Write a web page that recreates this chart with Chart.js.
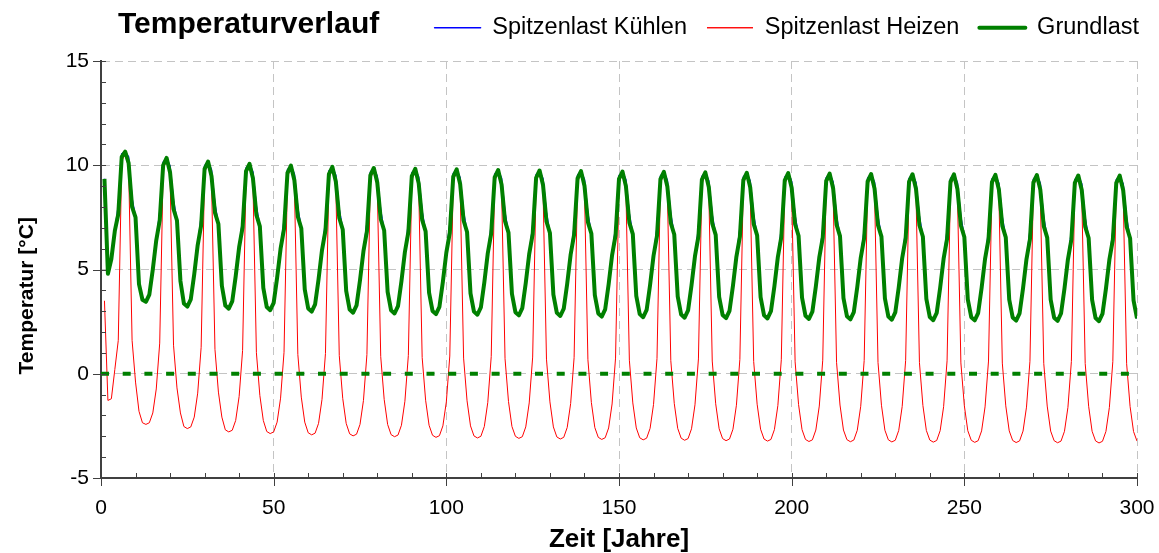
<!DOCTYPE html>
<html>
<head>
<meta charset="utf-8">
<title>Temperaturverlauf</title>
<script src="https://cdn.jsdelivr.net/npm/chart.js@4"></script>
<style>
  html, body { margin: 0; padding: 0; background: #fff; }
  canvas { display: block; }
</style>
</head>
<body>
<canvas id="tempChart" width="1159" height="553"></canvas>
<script>
// Monate 1..300 (x-Achse)
const monate = Array.from({ length: 300 }, (_, i) => i + 1);

const xTicks = [0, 50, 100, 150, 200, 250, 300];
const yTicks = [-5, 0, 5, 10, 15];

// Spitzenlast Kühlen (blau), ein Jahr pro Zeile
const kuehlen = [
  9.35, 4.80, 5.50, 6.85, 8.05, 10.55, 10.65, 10.40, 8.40, 7.50, 4.30, 3.55,
  3.45, 3.80, 5.00, 6.40, 7.75, 10.15, 10.35, 9.95, 8.30, 7.35, 4.45, 3.37,
  3.22, 3.57, 4.77, 6.17, 7.52, 9.98, 10.18, 9.78, 8.13, 7.18, 4.22, 3.27,
  3.12, 3.47, 4.67, 6.07, 7.42, 9.87, 10.07, 9.67, 8.02, 7.07, 4.12, 3.20,
  3.05, 3.40, 4.60, 6.00, 7.35, 9.78, 9.98, 9.58, 7.93, 6.98, 4.05, 3.13,
  2.98, 3.33, 4.53, 5.93, 7.28, 9.72, 9.92, 9.52, 7.87, 6.92, 3.98, 3.08,
  2.93, 3.28, 4.48, 5.88, 7.23, 9.67, 9.87, 9.47, 7.82, 6.87, 3.93, 3.04,
  2.89, 3.24, 4.44, 5.84, 7.19, 9.63, 9.83, 9.43, 7.78, 6.83, 3.89, 3.01,
  2.86, 3.21, 4.41, 5.81, 7.16, 9.60, 9.80, 9.40, 7.75, 6.80, 3.86, 2.98,
  2.83, 3.18, 4.38, 5.78, 7.13, 9.57, 9.77, 9.37, 7.72, 6.77, 3.83, 2.95,
  2.80, 3.15, 4.35, 5.75, 7.10, 9.55, 9.75, 9.35, 7.70, 6.75, 3.80, 2.92,
  2.77, 3.12, 4.32, 5.72, 7.07, 9.52, 9.72, 9.32, 7.67, 6.72, 3.77, 2.89,
  2.74, 3.09, 4.29, 5.69, 7.04, 9.50, 9.70, 9.30, 7.65, 6.70, 3.74, 2.86,
  2.71, 3.06, 4.26, 5.66, 7.01, 9.48, 9.68, 9.28, 7.63, 6.68, 3.71, 2.84,
  2.69, 3.04, 4.24, 5.64, 6.99, 9.46, 9.66, 9.26, 7.61, 6.66, 3.69, 2.82,
  2.67, 3.02, 4.22, 5.62, 6.97, 9.44, 9.64, 9.24, 7.59, 6.64, 3.67, 2.80,
  2.65, 3.00, 4.20, 5.60, 6.95, 9.42, 9.62, 9.22, 7.57, 6.62, 3.65, 2.78,
  2.63, 2.98, 4.18, 5.58, 6.93, 9.40, 9.60, 9.20, 7.55, 6.60, 3.63, 2.76,
  2.61, 2.96, 4.16, 5.56, 6.91, 9.38, 9.58, 9.18, 7.53, 6.58, 3.61, 2.74,
  2.59, 2.94, 4.14, 5.54, 6.89, 9.37, 9.57, 9.17, 7.52, 6.57, 3.59, 2.72,
  2.57, 2.92, 4.12, 5.52, 6.87, 9.36, 9.56, 9.16, 7.51, 6.56, 3.57, 2.71,
  2.56, 2.91, 4.11, 5.51, 6.86, 9.34, 9.54, 9.14, 7.49, 6.54, 3.56, 2.70,
  2.55, 2.90, 4.10, 5.50, 6.85, 9.33, 9.53, 9.13, 7.48, 6.53, 3.55, 2.69,
  2.54, 2.89, 4.09, 5.49, 6.84, 9.31, 9.51, 9.11, 7.46, 6.51, 3.54, 2.67,
  2.52, 2.87, 4.07, 5.47, 6.82, 9.30, 9.50, 9.10, 7.45, 6.50, 3.52, 2.65
];

// Spitzenlast Heizen (rot)
const heizen = [
  3.50, -1.28, -1.20, 0.20, 1.60, 10.20, 10.55, 9.90, 1.60, -0.40, -1.80, -2.35,
  -2.43, -2.35, -1.88, -0.73, 1.47, 9.80, 10.25, 9.45, 1.37, -0.68, -1.88, -2.53,
  -2.63, -2.55, -2.08, -0.93, 1.27, 9.63, 10.08, 9.28, 1.17, -0.88, -2.08, -2.69,
  -2.79, -2.71, -2.24, -1.09, 1.11, 9.52, 9.97, 9.17, 1.01, -1.04, -2.24, -2.77,
  -2.87, -2.79, -2.32, -1.17, 1.03, 9.43, 9.88, 9.08, 0.93, -1.12, -2.32, -2.83,
  -2.93, -2.85, -2.38, -1.23, 0.97, 9.37, 9.82, 9.02, 0.87, -1.18, -2.38, -2.88,
  -2.98, -2.90, -2.43, -1.28, 0.92, 9.32, 9.77, 8.97, 0.82, -1.23, -2.43, -2.92,
  -3.02, -2.94, -2.47, -1.32, 0.88, 9.28, 9.73, 8.93, 0.78, -1.27, -2.47, -2.95,
  -3.05, -2.97, -2.50, -1.35, 0.85, 9.25, 9.70, 8.90, 0.75, -1.30, -2.50, -2.98,
  -3.08, -3.00, -2.53, -1.38, 0.82, 9.22, 9.67, 8.87, 0.72, -1.33, -2.53, -3.00,
  -3.10, -3.02, -2.55, -1.40, 0.80, 9.20, 9.65, 8.85, 0.70, -1.35, -2.55, -3.03,
  -3.13, -3.05, -2.58, -1.43, 0.77, 9.17, 9.62, 8.82, 0.67, -1.38, -2.58, -3.05,
  -3.15, -3.07, -2.60, -1.45, 0.75, 9.15, 9.60, 8.80, 0.65, -1.40, -2.60, -3.07,
  -3.17, -3.09, -2.62, -1.47, 0.73, 9.13, 9.58, 8.78, 0.63, -1.42, -2.62, -3.09,
  -3.19, -3.11, -2.64, -1.49, 0.71, 9.11, 9.56, 8.76, 0.61, -1.44, -2.64, -3.11,
  -3.21, -3.13, -2.66, -1.51, 0.69, 9.09, 9.54, 8.74, 0.59, -1.46, -2.66, -3.13,
  -3.23, -3.15, -2.68, -1.53, 0.67, 9.07, 9.52, 8.72, 0.57, -1.48, -2.68, -3.15,
  -3.25, -3.17, -2.70, -1.55, 0.65, 9.05, 9.50, 8.70, 0.55, -1.50, -2.70, -3.16,
  -3.26, -3.18, -2.71, -1.56, 0.64, 9.03, 9.48, 8.68, 0.54, -1.51, -2.71, -3.17,
  -3.27, -3.19, -2.72, -1.57, 0.63, 9.02, 9.47, 8.67, 0.53, -1.52, -2.72, -3.18,
  -3.28, -3.20, -2.73, -1.58, 0.62, 9.01, 9.46, 8.66, 0.52, -1.53, -2.73, -3.19,
  -3.29, -3.21, -2.74, -1.59, 0.61, 8.99, 9.44, 8.64, 0.51, -1.54, -2.74, -3.20,
  -3.30, -3.22, -2.75, -1.60, 0.60, 8.98, 9.43, 8.63, 0.50, -1.55, -2.75, -3.21,
  -3.31, -3.23, -2.76, -1.61, 0.59, 8.96, 9.41, 8.61, 0.49, -1.56, -2.76, -3.22,
  -3.32, -3.24, -2.77, -1.62, 0.58, 8.95, 9.40, 8.60, 0.48, -1.57, -2.77, -3.23
];

// Grundlast (grün)
const grundlast = [
  9.35, 4.80, 5.50, 6.85, 7.65, 10.40, 10.65, 10.10, 8.00, 7.50, 4.30, 3.55,
  3.45, 3.80, 5.00, 6.40, 7.35, 10.00, 10.35, 9.65, 7.90, 7.35, 4.45, 3.37,
  3.22, 3.57, 4.77, 6.17, 7.12, 9.83, 10.18, 9.48, 7.73, 7.18, 4.22, 3.27,
  3.12, 3.47, 4.67, 6.07, 7.02, 9.72, 10.07, 9.37, 7.62, 7.07, 4.12, 3.20,
  3.05, 3.40, 4.60, 6.00, 6.95, 9.63, 9.98, 9.28, 7.53, 6.98, 4.05, 3.13,
  2.98, 3.33, 4.53, 5.93, 6.88, 9.57, 9.92, 9.22, 7.47, 6.92, 3.98, 3.08,
  2.93, 3.28, 4.48, 5.88, 6.83, 9.52, 9.87, 9.17, 7.42, 6.87, 3.93, 3.04,
  2.89, 3.24, 4.44, 5.84, 6.79, 9.48, 9.83, 9.13, 7.38, 6.83, 3.89, 3.01,
  2.86, 3.21, 4.41, 5.81, 6.76, 9.45, 9.80, 9.10, 7.35, 6.80, 3.86, 2.98,
  2.83, 3.18, 4.38, 5.78, 6.73, 9.42, 9.77, 9.07, 7.32, 6.77, 3.83, 2.95,
  2.80, 3.15, 4.35, 5.75, 6.70, 9.40, 9.75, 9.05, 7.30, 6.75, 3.80, 2.92,
  2.77, 3.12, 4.32, 5.72, 6.67, 9.37, 9.72, 9.02, 7.27, 6.72, 3.77, 2.89,
  2.74, 3.09, 4.29, 5.69, 6.64, 9.35, 9.70, 9.00, 7.25, 6.70, 3.74, 2.86,
  2.71, 3.06, 4.26, 5.66, 6.61, 9.33, 9.68, 8.98, 7.23, 6.68, 3.71, 2.84,
  2.69, 3.04, 4.24, 5.64, 6.59, 9.31, 9.66, 8.96, 7.21, 6.66, 3.69, 2.82,
  2.67, 3.02, 4.22, 5.62, 6.57, 9.29, 9.64, 8.94, 7.19, 6.64, 3.67, 2.80,
  2.65, 3.00, 4.20, 5.60, 6.55, 9.27, 9.62, 8.92, 7.17, 6.62, 3.65, 2.78,
  2.63, 2.98, 4.18, 5.58, 6.53, 9.25, 9.60, 8.90, 7.15, 6.60, 3.63, 2.76,
  2.61, 2.96, 4.16, 5.56, 6.51, 9.23, 9.58, 8.88, 7.13, 6.58, 3.61, 2.74,
  2.59, 2.94, 4.14, 5.54, 6.49, 9.22, 9.57, 8.87, 7.12, 6.57, 3.59, 2.72,
  2.57, 2.92, 4.12, 5.52, 6.47, 9.21, 9.56, 8.86, 7.11, 6.56, 3.57, 2.71,
  2.56, 2.91, 4.11, 5.51, 6.46, 9.19, 9.54, 8.84, 7.09, 6.54, 3.56, 2.70,
  2.55, 2.90, 4.10, 5.50, 6.45, 9.18, 9.53, 8.83, 7.08, 6.53, 3.55, 2.69,
  2.54, 2.89, 4.09, 5.49, 6.44, 9.16, 9.51, 8.81, 7.06, 6.51, 3.54, 2.67,
  2.52, 2.87, 4.07, 5.47, 6.42, 9.15, 9.50, 8.80, 7.05, 6.50, 3.52, 2.65
];

// gestrichelte Linie bei 0 °C
const nullX = [0, 300];
const nullY = [0, 0];

Chart.defaults.font.family = "'Liberation Sans', Arial, sans-serif";
Chart.defaults.color = '#000';

// kleine Striche an den Achsen (Haupt- und Zwischenteilung)
const achsenStriche = {
  id: 'achsenStriche',
  afterDraw(chart) {
    const { ctx, chartArea: a, scales: { x, y } } = chart;
    ctx.save();
    ctx.strokeStyle = '#404040';
    ctx.lineWidth = 1;
    ctx.beginPath();
    for (let v = 0; v <= 300; v += 10) {
      const px = Math.round(x.getPixelForValue(v)) + 0.5;
      ctx.moveTo(px, a.bottom - 5);
      ctx.lineTo(px, v % 50 === 0 ? a.bottom + 8 : a.bottom);
    }
    for (let v = -5; v <= 15; v++) {
      const py = Math.round(y.getPixelForValue(v)) + 0.5;
      ctx.moveTo(a.left + 5, py);
      ctx.lineTo(v % 5 === 0 ? a.left - 8 : a.left, py);
    }
    ctx.stroke();
    ctx.restore();
  }
};

// Titel nach rechts, Legende etwas nach oben schieben
const kopfzeile = {
  id: 'kopfzeile',
  afterLayout(chart) {
    chart.titleBlock.left += 17;
    chart.legend.top -= 4;
    chart.legend.bottom -= 4;
  }
};

const ctx = document.getElementById('tempChart').getContext('2d');

new Chart(ctx, {
  type: 'line',
  data: {
    labels: monate,
    datasets: [
      {
        label: 'Spitzenlast Kühlen',
        data: kuehlen,
        borderColor: '#0000ff',
        backgroundColor: '#0000ff',
        borderWidth: 1.5,
        borderJoinStyle: 'round',
        order: 2
      },
      {
        label: 'Spitzenlast Heizen',
        data: heizen,
        borderColor: '#ff0000',
        backgroundColor: '#ff0000',
        borderWidth: 1,
        order: 3
      },
      {
        label: 'Grundlast',
        data: grundlast,
        borderColor: '#008000',
        backgroundColor: '#008000',
        borderWidth: 4,
        borderJoinStyle: 'round',
        order: 0
      },
      {
        label: 'Nulllinie',
        data: nullX.map((v, i) => ({ x: v, y: nullY[i] })),
        borderColor: '#008000',
        backgroundColor: '#008000',
        borderWidth: 4,
        borderDash: [8, 13.7],
        order: 1
      }
    ]
  },
  options: {
    responsive: false,
    animation: false,
    devicePixelRatio: 1,
    elements: {
      point: { radius: 0 },
      line: { tension: 0 }
    },
    layout: {
      padding: { top: 0, right: 0, bottom: 0, left: 0 }
    },
    plugins: {
      tooltip: { enabled: false },
      legend: {
        position: 'top',
        align: 'end',
        weight: 3000,
        labels: {
          boxWidth: 46,
          boxHeight: 0,
          padding: 20,
          font: { size: 23.5 },
          color: '#000',
          filter: (item) => item.datasetIndex !== 3,
          sort: (a, b) => a.datasetIndex - b.datasetIndex
        }
      },
      title: {
        display: true,
        text: 'Temperaturverlauf',
        align: 'start',
        position: 'top',
        fullSize: false,
        weight: 1000,
        color: '#000',
        font: { size: 30, weight: 'bold', lineHeight: 1.2 },
        padding: { top: -46.5, bottom: 18 }
      }
    },
    scales: {
      x: {
        type: 'linear',
        min: 0,
        max: 300,
        afterBuildTicks: (s) => { s.ticks = xTicks.map(v => ({ value: v })); },
        afterFit: (s) => { s.height = 75; s.paddingRight = 22; },
        ticks: {
          font: { size: 21 },
          color: '#000',
          padding: 18,
          maxRotation: 0
        },
        grid: {
          color: '#c4c4c4',
          lineWidth: 1,
          drawTicks: false
        },
        border: {
          display: true,
          color: '#404040',
          width: 2,
          dash: [8, 5]
        },
        title: {
          display: true,
          text: 'Zeit [Jahre]',
          color: '#000',
          font: { size: 26, weight: 'bold', lineHeight: 1 },
          padding: { top: 0, bottom: 0 }
        }
      },
      y: {
        min: -5,
        max: 15,
        afterBuildTicks: (s) => { s.ticks = yTicks.map(v => ({ value: v })); },
        afterFit: (s) => { s.width = 101; },
        ticks: {
          font: { size: 21 },
          color: '#000',
          padding: 12
        },
        grid: {
          color: '#c4c4c4',
          lineWidth: 1,
          drawTicks: false
        },
        border: {
          display: true,
          color: '#404040',
          width: 2,
          dash: [8, 5]
        },
        title: {
          display: true,
          // nachgestellte Leerzeichen rücken den Text wie im Original etwas nach unten
          text: 'Temperatur [°C]         ',
          color: '#000',
          font: { size: 21, weight: 'bold', lineHeight: 1 },
          padding: { top: 17, bottom: 0 }
        }
      }
    }
  },
  plugins: [achsenStriche, kopfzeile]
});
</script>
</body>
</html>
